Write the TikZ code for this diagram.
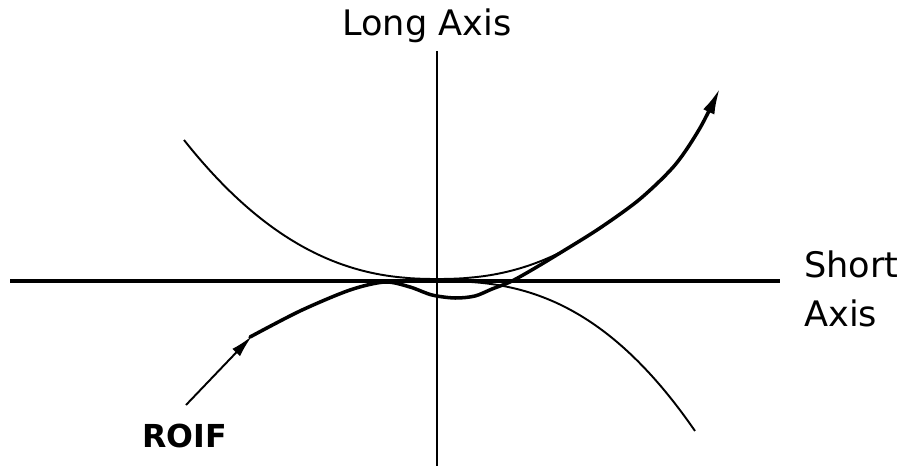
\documentclass[tikz,border=0pt]{standalone}
\usepackage{fontspec}
\setmainfont{DejaVu Sans}
\usetikzlibrary{arrows.meta}
\tikzset{>={Latex[length=15pt,width=7pt]}}
\tikzset{axisline/.style={line width=1.4pt},
  guide/.style={line width=1.1pt},
  roif/.style={line width=2pt, line join=round, line cap=round}}

\begin{document}
\begin{tikzpicture}[x=0.02cm, y=-0.02cm]
          \useasboundingbox (0,0) rectangle (903,466);
          % axes
          \draw[axisline, line width=2pt] (10,281) -- (780,281);
          \draw[axisline] (437,51) -- (437,466);
          % the two thin parabolas
          \draw[guide, domain=184:560, samples=76, variable=\x, smooth] plot ({\x}, {279-139*pow(abs(\x-437)/253,2.3)});
          \draw[guide, domain=438:695, samples=60, variable=\x, smooth] plot ({\x}, {281+150*pow((\x-437)/258,2.5)});
          % the ROIF path
          \draw[guide, ->, >={Latex[length=13pt,width=6pt]}] (186,405) -- (252,336);
          \draw[roif, ->] plot[smooth] coordinates {(250,337) (300,311) (350,290) (385,282) (410,287) (432,295) (455,298) (475,296) (492,289) (510,282) (530,271) (560,253) (600,228) (640,199) (675,165) (700,128) (720,88)};
          \node[anchor=base, inner sep=0pt, font=\fontsize{20}{24}\selectfont] (longlbl) at (427,36) {Long Axis};
          \node[anchor=north west, inner sep=0pt, align=left, font=\fontsize{20}{28.4}\selectfont] (shortlbl) at (804,250) {Short\\Axis};
          \node[anchor=base west, inner sep=0pt, font=\fontsize{18}{22}\selectfont\bfseries] (roiflbl) at (142,447) {ROIF};
        \end{tikzpicture}
\end{document}
